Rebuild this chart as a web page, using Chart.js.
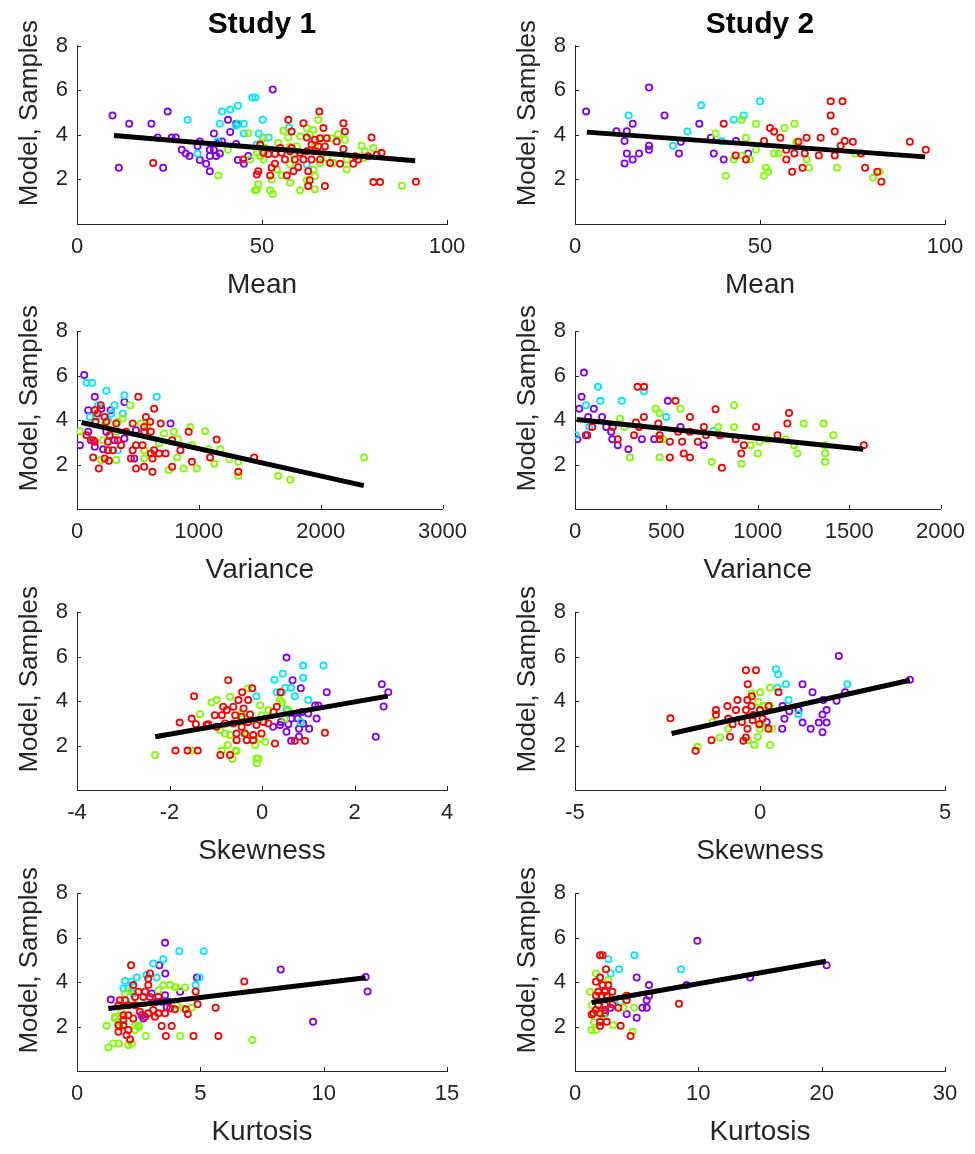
<!DOCTYPE html>
<html>
<head>
<meta charset="utf-8">
<script src="https://cdn.jsdelivr.net/npm/chart.js@4.4.0/dist/chart.umd.min.js"></script>
<style>
  body { margin: 0; background: #fff; width: 975px; height: 1154px; position: relative; overflow: hidden; }
  canvas { position: absolute; }
</style>
</head>
<body>
<script>
// ---- datos ----
const yTicks = [2, 4, 6, 8];
const meanTicks = [0, 50, 100];
const s1VarTicks = [0, 1000, 2000, 3000];
const s2VarTicks = [0, 500, 1000, 1500, 2000];
const s1SkewTicks = [-4, -2, 0, 2, 4];
const s2SkewTicks = [-5, 0, 5];
const s1KurtTicks = [0, 5, 10, 15];
const s2KurtTicks = [0, 10, 20, 30];

// Study 1 - Mean
const s1MeanPurple = [[9.6,4.86],[14.1,4.5],[20.1,4.5],[24.5,5.04],[11.3,2.52],[23.3,2.52],[52.9,6.03],[40.8,4.67],[41.4,4.13],[37.0,4.06],[21.8,3.88],[25.6,3.88],[26.7,3.88],[33.2,3.7],[32.6,3.5],[28.3,3.33],[29.4,3.16],[30.4,3.05],[35.9,3.33],[37.0,3.33],[38.6,3.16],[35.9,3.05],[37.6,3.05],[33.2,2.87],[34.9,2.7],[35.9,2.36],[39.2,3.7],[43.0,3.59],[43.0,4.5],[43.5,2.87],[45.1,2.7],[46.3,3.05],[38.3,3.63]];
const s1MeanCyan = [[29.9,4.68],[39.2,5.04],[41.4,5.13],[43.5,5.3],[47.4,5.67],[48.2,5.67],[38.6,4.5],[43.0,4.41],[43.5,4.5],[45.1,4.5],[50.2,4.68],[49.1,4.06],[51.8,3.88],[50.2,3.88],[32.6,3.16],[37.9,3.7],[57.3,4.33],[45.1,4.06],[48.6,3.56],[62.1,2.67]];
const s1MeanGreen = [[46.3,4.07],[38.2,2.18],[50.4,3.85],[49.7,3.51],[48.6,3.19],[55.8,4.18],[57.1,3.88],[60.3,3.93],[62.1,4.3],[63.0,4.03],[63.9,4.22],[65.2,4.67],[65.5,3.81],[64.3,3.51],[68.8,3.85],[70.6,4.03],[72.4,3.78],[76.9,3.51],[77.8,3.26],[72.9,2.89],[69.3,2.74],[65.7,2.74],[63.9,2.44],[64.3,2.15],[62.1,1.96],[60.3,1.51],[57.6,1.85],[55.3,2.18],[54.0,2.44],[52.2,1.51],[49.0,1.78],[48.1,1.51],[46.8,2.89],[50.4,2.89],[57.6,2.67],[59.4,3.48],[54.4,3.63],[58.5,3.11],[67.5,2.96],[57.6,3.48],[52.6,2.0],[72.9,2.44],[80.1,3.41],[77.4,2.96],[50.8,3.41],[49.5,3.04],[64.3,1.56],[40.8,3.33],[87.8,1.72],[52.9,1.35],[48.6,1.54]];
const s1MeanRed = [[65.5,5.04],[57.1,4.67],[61.2,4.52],[66.6,4.3],[72.0,4.52],[58.0,4.15],[62.1,3.88],[64.3,3.78],[65.7,3.85],[67.5,3.85],[70.2,3.7],[72.4,4.15],[79.6,3.88],[63.4,3.56],[65.2,3.48],[67.0,3.48],[72.0,3.36],[62.1,3.26],[64.3,3.26],[60.3,3.19],[57.6,3.26],[55.3,3.19],[53.5,3.14],[51.7,3.14],[49.5,3.56],[50.4,3.19],[56.2,2.89],[58.9,2.89],[61.2,2.89],[63.4,2.89],[65.7,2.89],[68.4,2.74],[71.1,2.7],[74.7,2.7],[76.0,2.89],[78.7,3.04],[82.3,3.19],[81.0,3.11],[75.1,3.04],[53.5,2.7],[52.6,2.52],[49.0,2.37],[48.6,2.22],[52.2,2.18],[56.7,2.18],[58.5,2.37],[59.8,2.55],[62.5,2.37],[62.9,1.96],[62.5,1.7],[67.0,1.7],[44.9,2.89],[80.1,1.88],[81.9,1.88],[58.0,3.41],[54.9,3.41],[20.6,2.74],[91.6,1.89]];
const s1MeanFit = [[10,3.97],[91.4,2.84]];

// Study 2 - Mean
const s2MeanPurple = [[3.0,5.05],[20.0,6.12],[11.2,4.16],[14.0,4.16],[15.6,4.5],[13.4,3.72],[14.0,3.16],[15.6,2.89],[13.4,2.71],[17.3,3.16],[20.0,3.51],[20.0,3.33],[24.2,4.87],[28.6,3.69],[28.1,3.16],[33.6,4.5],[36.7,3.87],[37.5,3.16],[40.2,2.89],[43.5,3.72],[46.8,3.16]];
const s2MeanCyan = [[14.5,4.87],[34.1,5.32],[30.4,4.15],[26.5,3.51],[42.9,4.68],[45.6,4.87],[50.0,5.5],[39.6,3.72]];
const s2MeanGreen = [[38.0,4.06],[45.0,4.68],[48.9,4.5],[46.2,3.87],[56.6,4.31],[59.3,4.5],[42.9,2.89],[45.1,3.07],[47.3,2.89],[48.9,3.33],[40.7,2.16],[51.1,2.16],[51.6,2.52],[52.2,2.34],[53.8,3.16],[55.0,3.16],[59.8,3.69],[62.6,2.89],[63.2,2.52],[70.8,2.52],[75.7,3.16],[80.6,2.07],[82.3,2.34]];
const s2MeanRed = [[40.2,4.5],[43.4,3.07],[46.2,2.89],[52.7,4.31],[53.8,4.15],[55.5,3.87],[51.1,3.72],[57.1,3.33],[57.1,2.89],[58.7,2.34],[59.3,3.16],[60.4,3.69],[62.6,3.87],[62.1,3.16],[61.5,2.52],[65.9,3.07],[66.4,3.87],[69.1,5.5],[72.3,5.5],[69.1,4.87],[70.2,4.15],[71.8,3.51],[72.9,3.72],[75.1,3.69],[70.2,3.07],[77.3,3.16],[78.4,2.52],[81.7,2.34],[82.8,1.9],[90.5,3.69],[94.8,3.33]];
const s2MeanFit = [[3.2,4.12],[94.6,3.01]];

// Study 1 - Variance
const s1VarPurple = [[59,6.02],[146,5.04],[389,4.81],[92,4.44],[200,4.51],[276,4.44],[92,3.47],[114,3.09],[24,2.87],[146,2.8],[214,2.68],[308,3.09],[484,3.54],[470,2.27],[768,3.84],[389,3.17],[240,3.47]];
const s1VarCyan = [[79,5.67],[124,5.67],[241,5.31],[389,5.11],[654,5.04],[173,4.66],[308,4.66],[376,4.29],[106,4.14],[281,4.29],[160,4.14],[254,3.99],[335,2.64]];
const s1VarGreen = [[438,4.66],[376,4.06],[24,3.5],[335,3.92],[524,3.84],[578,3.77],[227,3.77],[322,3.47],[551,2.64],[551,2.27],[322,2.2],[714,3.39],[795,3.47],[930,3.69],[822,2.32],[754,1.75],[876,1.82],[984,1.82],[214,3.09],[673,2.94],[200,2.2],[1051,3.5],[943,2.87],[1079,2.69],[1176,2.69],[1127,2.03],[1324,2.12],[1324,1.49],[1652,1.49],[1749,1.32],[2357,2.32],[1250,2.25],[827,3.14]];
const s1VarRed = [[503,5.04],[633,4.51],[195,4.66],[146,4.44],[168,4.29],[227,4.14],[240,3.92],[322,3.84],[152,3.92],[403,3.47],[457,3.84],[565,4.14],[600,3.92],[551,3.69],[606,3.47],[687,3.84],[551,3.47],[79,3.32],[133,3.09],[146,3.02],[268,3.32],[335,3.09],[254,3.02],[254,2.64],[295,2.64],[362,2.87],[457,2.64],[484,2.87],[538,2.87],[633,2.64],[673,2.5],[727,2.5],[781,3.09],[849,2.64],[916,3.47],[606,2.5],[133,2.32],[227,2.27],[443,2.27],[619,2.27],[179,1.82],[262,2.17],[484,1.82],[551,1.9],[619,1.67],[781,1.9],[943,2.12],[1092,2.32],[1146,3.12],[1454,2.32],[1324,1.67]];
const s1VarFit = [[38,3.89],[2354,1.05]];

// Study 2 - Variance
const s2VarPurple = [[49,6.13],[36,5.04],[23,4.51],[103,4.51],[72,4.14],[148,4.14],[171,3.69],[198,3.47],[204,3.14],[234,2.87],[67,3.32],[13,3.14],[292,2.69],[366,3.14],[433,3.14],[508,4.86],[577,3.69],[705,2.87]];
const s2VarCyan = [[126,5.49],[139,4.86],[256,4.86],[59,4.66],[4,3.32],[377,5.29],[499,4.14],[78,3.69],[757,3.51]];
const s2VarGreen = [[247,4.06],[270,3.69],[301,2.32],[442,4.51],[463,4.32],[577,4.51],[463,2.32],[481,3.14],[784,3.69],[870,4.66],[870,3.69],[748,2.12],[910,2.03],[960,2.87],[1000,2.5],[1009,3.02],[1054,3.14],[1153,3.14],[1198,2.87],[1216,2.5],[1252,3.84],[1360,3.84],[1414,3.32],[1369,2.87],[1369,2.5],[1369,2.12]];
const s2VarRed = [[342,5.49],[378,5.49],[550,4.86],[769,4.48],[1171,4.32],[1162,3.84],[629,4.14],[377,4.14],[333,3.89],[456,3.84],[207,3.69],[94,3.69],[59,3.32],[234,3.14],[323,3.32],[351,3.69],[463,3.32],[463,3.14],[519,3.02],[564,3.47],[586,3.02],[629,3.47],[672,3.02],[705,3.69],[717,3.32],[793,3.32],[879,3.14],[924,2.87],[910,2.5],[991,3.69],[1108,3.32],[595,2.5],[629,2.32],[519,2.32],[804,1.85],[1580,2.87]];
const s2VarFit = [[9,4.02],[1577,2.69]];

// Study 1 - Skewness
const s1SkewPurple = [[0.53,5.95],[2.59,4.75],[2.73,4.39],[2.63,3.75],[2.46,2.39],[1.4,4.39],[0.66,4.93],[0.84,4.57],[1.15,3.8],[1.22,3.8],[1.0,3.44],[1.18,3.21],[1.02,2.75],[0.8,2.75],[0.8,2.39],[0.63,2.21],[0.53,2.62],[0.41,3.06],[0.64,3.21],[0.86,3.51],[0.57,2.96],[0.24,2.84],[0.77,3.21],[0.89,2.99],[0.39,2.92]];
const s1SkewCyan = [[0.89,5.59],[1.33,5.59],[0.45,5.23],[0.27,4.96],[0.89,5.05],[0.5,4.6],[0.63,4.6],[0.32,4.39],[0.71,4.21],[1.0,4.04],[-0.12,4.21],[0.84,3.06],[0.53,3.62],[0.43,4.39]];
const s1SkewGreen = [[-2.31,1.57],[-1.52,1.77],[-1.34,3.41],[-1.09,3.93],[-0.98,4.04],[-0.87,1.77],[-0.74,2.02],[-0.57,1.77],[-0.64,1.39],[-0.11,1.2],[-0.08,1.42],[-0.69,4.19],[0.43,3.93],[-0.3,4.56],[-0.04,3.81],[-0.01,3.36],[0.14,3.59],[0.39,4.04],[0.57,3.59],[-0.8,2.54],[-0.69,2.47],[-0.33,2.47],[-0.04,2.32],[0.07,2.17],[-0.15,2.02],[-0.55,1.75],[-0.12,1.42],[0.5,3.21],[-0.48,3.06],[-0.91,2.69],[-0.44,3.44]];
const s1SkewRed = [[-1.87,1.77],[-1.61,1.77],[-1.39,1.77],[-1.78,3.03],[-1.52,3.21],[-1.43,2.96],[-1.16,2.96],[-1.47,4.21],[-0.73,4.93],[-0.9,1.57],[-0.69,1.57],[1.36,2.57],[0.93,2.21],[0.71,2.21],[0.4,4.39],[-0.43,4.39],[-0.21,4.57],[-0.3,4.04],[-0.51,4.04],[-0.62,3.74],[-0.4,3.66],[-0.84,3.74],[-0.76,3.59],[-0.58,3.36],[-0.44,3.29],[-0.26,3.39],[-0.87,3.36],[-1.02,3.36],[-1.2,2.92],[-0.98,2.84],[-0.8,2.99],[-0.62,2.99],[-0.44,2.84],[-0.3,3.06],[-0.12,2.92],[0.03,3.06],[0.14,2.99],[-0.55,2.54],[-0.37,2.54],[-0.19,2.47],[-0.01,2.54],[-0.55,2.24],[-0.33,2.24],[-0.19,2.24],[0.28,2.09],[0.25,3.51],[0.32,3.74]];
const s1SkewFit = [[-2.31,2.39],[2.72,4.22]];

// Study 2 - Skewness
const s2SkewPurple = [[2.13,6.02],[4.05,4.96],[1.15,4.75],[1.42,4.39],[2.3,4.39],[2.07,4.01],[1.71,4.04],[0.61,3.77],[0.79,3.54],[1.8,3.59],[1.69,3.39],[0.66,3.2],[1.15,3.03],[1.59,3.03],[1.8,3.03],[0.6,2.75],[1.37,2.75],[1.69,2.6],[0.18,3.06],[1.04,3.59]];
const s2SkewCyan = [[0.43,5.43],[0.49,5.2],[0.7,4.75],[2.36,4.75],[0.77,4.04],[0.47,4.6],[1.04,3.41]];
const s2SkewGreen = [[0.27,4.6],[0.0,4.39],[-0.23,4.34],[-0.05,3.96],[0.11,3.77],[0.27,3.77],[-1.08,2.36],[-1.69,1.94],[-0.06,2.39],[-0.15,2.03],[-0.33,2.24],[0.27,2.02],[-1.28,3.06],[-0.86,2.75],[0.0,2.75],[0.32,2.75],[0.04,2.96]];
const s2SkewRed = [[-0.38,5.38],[-0.11,5.38],[-0.33,4.75],[0.5,4.39],[-0.61,4.04],[-0.22,4.21],[-0.34,4.04],[-0.23,3.77],[-0.88,3.77],[-0.65,3.59],[-0.38,3.59],[-1.19,3.59],[-1.19,3.38],[-2.42,3.22],[0.23,3.77],[0.0,3.59],[-0.18,3.37],[-0.86,3.21],[-0.74,2.96],[-0.49,3.06],[-0.2,3.14],[0.07,3.21],[-0.02,2.96],[-0.34,2.75],[0.23,2.75],[-0.81,2.39],[-0.38,2.36],[-0.45,2.21],[-1.31,2.24],[-1.74,1.76]];
const s2SkewFit = [[-2.39,2.54],[4.05,4.93]];

// Study 1 - Kurtosis
const s1KurtPurple = [[3.57,5.76],[8.26,4.56],[11.7,4.23],[11.78,3.57],[9.57,2.21],[3.58,4.38],[3.34,4.75],[1.37,3.21],[4.86,4.2],[4.18,3.56],[3.57,3.41],[3.7,3.11],[3.64,2.88],[3.43,3.11],[2.69,2.36],[3.03,3.48],[3.23,3.11],[2.62,2.51]];
const s1KurtCyan = [[4.15,5.38],[5.14,5.38],[3.5,5.02],[3.09,4.83],[4.97,4.2],[4.81,3.86],[1.95,4.05],[2.22,4.01],[2.42,4.2],[2.82,4.31],[3.23,4.2],[2.08,3.71],[2.28,3.48],[1.88,3.71]];
const s1KurtGreen = [[1.27,1.06],[1.47,1.24],[1.7,1.24],[1.2,2.03],[2.78,1.57],[4.18,1.57],[7.11,1.39],[2.51,1.99],[4.38,3.75],[4.01,3.75],[3.77,3.86],[4.65,2.85],[4.31,2.81],[1.54,2.36],[1.68,2.21],[2.35,1.84],[1.54,2.44],[1.74,1.98],[2.35,2.06],[2.49,2.06],[1.95,3.48],[2.22,3.63],[3.3,3.63],[3.5,3.86],[3.97,3.78],[4.04,2.96],[1.81,2.66],[2.08,1.17],[2.22,1.24]];
const s1KurtRed = [[2.19,4.75],[6.78,4.02],[4.81,3.57],[4.89,3.0],[5.62,2.84],[3.84,2.02],[3.43,2.02],[3.6,1.57],[4.72,1.57],[5.73,1.57],[2.15,1.42],[3.97,2.77],[4.41,2.77],[4.49,2.56],[2.28,3.86],[2.49,3.56],[2.76,3.56],[2.35,3.33],[2.69,3.33],[2.96,3.33],[3.3,3.33],[2.89,3.86],[2.89,4.16],[2.96,4.38],[1.74,3.18],[1.95,3.18],[2.08,2.96],[1.68,2.96],[2.35,2.96],[2.55,2.66],[2.89,2.59],[3.09,2.74],[3.3,2.59],[3.57,2.59],[3.77,2.81],[1.88,2.51],[2.08,2.51],[2.28,2.36],[1.88,2.29],[2.76,2.44],[3.16,2.44],[1.68,2.06],[1.88,2.06],[2.08,1.84],[1.68,1.76],[2.01,1.61]];
const s1KurtFit = [[1.27,2.81],[11.7,4.19]];

// Study 2 - Kurtosis
const s2KurtPurple = [[9.92,5.85],[20.4,4.75],[14.2,4.2],[9.05,3.86],[5.0,4.2],[6.0,3.86],[6.0,3.38],[5.81,3.18],[5.46,2.84],[5.81,2.84],[4.19,2.56],[5.0,2.39],[2.89,2.84],[2.43,2.59]];
const s2KurtCyan = [[2.7,5.02],[4.81,5.2],[8.59,4.57],[3.57,4.57],[2.89,4.38],[3.65,3.11]];
const s2KurtGreen = [[1.7,4.38],[1.22,3.56],[1.35,2.96],[2.7,4.08],[3.92,2.84],[4.81,2.84],[1.54,2.21],[1.35,1.84],[1.7,1.84],[3.11,2.06],[4.65,1.76],[2.3,2.51]];
const s2KurtRed = [[2.03,5.2],[2.24,5.2],[2.51,4.57],[2.03,4.2],[1.7,4.01],[2.24,3.86],[2.7,3.86],[1.89,3.56],[2.43,3.56],[3.03,3.56],[1.7,3.38],[2.16,3.38],[2.57,3.38],[4.19,3.38],[4.19,3.18],[1.89,2.96],[2.43,2.96],[3.03,2.99],[3.51,2.84],[1.7,2.74],[1.49,2.59],[2.03,2.59],[2.43,2.74],[2.03,2.21],[2.57,2.21],[2.03,2.02],[3.7,2.03],[4.51,1.57],[8.43,3.02],[1.35,2.54]];
const s2KurtFit = [[1.35,3.08],[20.35,4.93]];

// colores de las series: morado, cian, verde, rojo
const seriesColors = ['#8000ff', '#00eaff', '#80ff00', '#ff0000'];
const axisColor = '#262626';

// posiciones en pixeles de cada area de grafico
const colLeft = [77, 575];
const rowTop = [45.6, 330.6, 611.6, 892.6];
const plotW = 370, plotH = 178.4;
const yAxisW = 77, xAxisH = 80, padRight = 30, padTop = 40;

const panels = [
  { row: 0, col: 0, title: 'Study 1', xLabel: 'Mean', ticks: meanTicks, series: [s1MeanPurple, s1MeanCyan, s1MeanGreen, s1MeanRed], fit: s1MeanFit },
  { row: 0, col: 1, title: 'Study 2', xLabel: 'Mean', ticks: meanTicks, series: [s2MeanPurple, s2MeanCyan, s2MeanGreen, s2MeanRed], fit: s2MeanFit },
  { row: 1, col: 0, xLabel: 'Variance', ticks: s1VarTicks, series: [s1VarPurple, s1VarCyan, s1VarGreen, s1VarRed], fit: s1VarFit },
  { row: 1, col: 1, xLabel: 'Variance', ticks: s2VarTicks, series: [s2VarPurple, s2VarCyan, s2VarGreen, s2VarRed], fit: s2VarFit },
  { row: 2, col: 0, xLabel: 'Skewness', ticks: s1SkewTicks, series: [s1SkewPurple, s1SkewCyan, s1SkewGreen, s1SkewRed], fit: s1SkewFit },
  { row: 2, col: 1, xLabel: 'Skewness', ticks: s2SkewTicks, series: [s2SkewPurple, s2SkewCyan, s2SkewGreen, s2SkewRed], fit: s2SkewFit },
  { row: 3, col: 0, xLabel: 'Kurtosis', ticks: s1KurtTicks, series: [s1KurtPurple, s1KurtCyan, s1KurtGreen, s1KurtRed], fit: s1KurtFit },
  { row: 3, col: 1, xLabel: 'Kurtosis', ticks: s2KurtTicks, series: [s2KurtPurple, s2KurtCyan, s2KurtGreen, s2KurtRed], fit: s2KurtFit }
];

Chart.defaults.font.family = '"Liberation Sans", Arial, Helvetica, sans-serif';
Chart.defaults.color = axisColor;

// marcas de los ejes hacia dentro (estilo MATLAB)
const inwardTicks = {
  id: 'inwardTicks',
  beforeDatasetsDraw(chart) {
    const ctx = chart.ctx;
    const xs = chart.scales.x, ys = chart.scales.y;
    const area = chart.chartArea;
    ctx.save();
    ctx.strokeStyle = axisColor;
    ctx.lineWidth = 1;
    ctx.beginPath();
    xs.ticks.forEach(t => {
      const px = Math.round(xs.getPixelForValue(t.value)) + 0.5;
      ctx.moveTo(px, area.bottom);
      ctx.lineTo(px, area.bottom - 4);
    });
    ys.ticks.forEach(t => {
      const py = Math.round(ys.getPixelForValue(t.value)) + 0.5;
      ctx.moveTo(area.left, py);
      ctx.lineTo(area.left + 4, py);
    });
    ctx.stroke();
    ctx.restore();
  }
};

panels.forEach(function(p) {
  const hasTitle = !!p.title;
  const titleBox = 6 + 30 * 1.2 + 3.2;
  const topPad = hasTitle ? rowTop[p.row] - titleBox : padTop;
  const canvasTop = hasTitle ? 0 : rowTop[p.row] - padTop;
  const w = yAxisW + plotW + padRight;
  const h = (hasTitle ? rowTop[p.row] : padTop) + plotH + xAxisH;

  const canvas = document.createElement('canvas');
  canvas.width = w;
  canvas.height = h;
  canvas.style.left = (colLeft[p.col] - yAxisW) + 'px';
  canvas.style.top = canvasTop + 'px';
  document.body.appendChild(canvas);

  const datasets = [{
    data: p.fit.map(d => ({ x: d[0], y: d[1] })),
    showLine: true,
    borderColor: '#000',
    borderWidth: 5,
    pointRadius: 0,
    order: 0
  }];
  p.series.forEach(function(s, i) {
    datasets.push({
      data: s.map(d => ({ x: d[0], y: d[1] })),
      pointRadius: 3.1,
      pointBorderWidth: 1.8,
      pointBackgroundColor: 'rgba(0,0,0,0)',
      pointBorderColor: seriesColors[i],
      order: 4 - i
    });
  });

  new Chart(canvas.getContext('2d'), {
    type: 'scatter',
    data: { datasets: datasets },
    options: {
      responsive: false,
      animation: false,
      devicePixelRatio: 1,
      layout: { padding: { top: topPad, right: padRight, left: 0, bottom: 0 } },
      plugins: {
        legend: { display: false },
        tooltip: { enabled: false },
        title: {
          display: hasTitle,
          fullSize: false,
          text: p.title || '',
          color: '#000',
          font: { size: 30, weight: 'bold' },
          padding: { top: 6, bottom: 3.2 }
        }
      },
      scales: {
        x: {
          type: 'linear',
          min: p.ticks[0],
          max: p.ticks[p.ticks.length - 1],
          afterBuildTicks: s => { s.ticks = p.ticks.map(v => ({ value: v })); },
          afterFit: s => { s.height = xAxisH; },
          grid: { display: false, drawTicks: false },
          border: { color: axisColor, width: 1 },
          ticks: { padding: 10, color: axisColor, font: { size: 22 }, callback: v => String(v) },
          title: { display: true, text: p.xLabel, color: axisColor, font: { size: 28 }, padding: { top: 0, bottom: 2.2 } }
        },
        y: {
          type: 'linear',
          min: 0,
          max: 8,
          afterBuildTicks: s => { s.ticks = yTicks.map(v => ({ value: v })); },
          afterFit: s => { s.width = yAxisW; },
          grid: { display: false, drawTicks: false },
          border: { color: axisColor, width: 1 },
          ticks: { padding: 9, color: axisColor, font: { size: 22 }, callback: v => String(v) },
          // espacios al inicio para subir el texto como en la figura
          title: { display: true, text: '      Model, Samples', color: axisColor, font: { size: 26 }, padding: { top: 14.4, bottom: 0 } }
        }
      }
    },
    plugins: [inwardTicks]
  });
});
</script>
</body>
</html>
